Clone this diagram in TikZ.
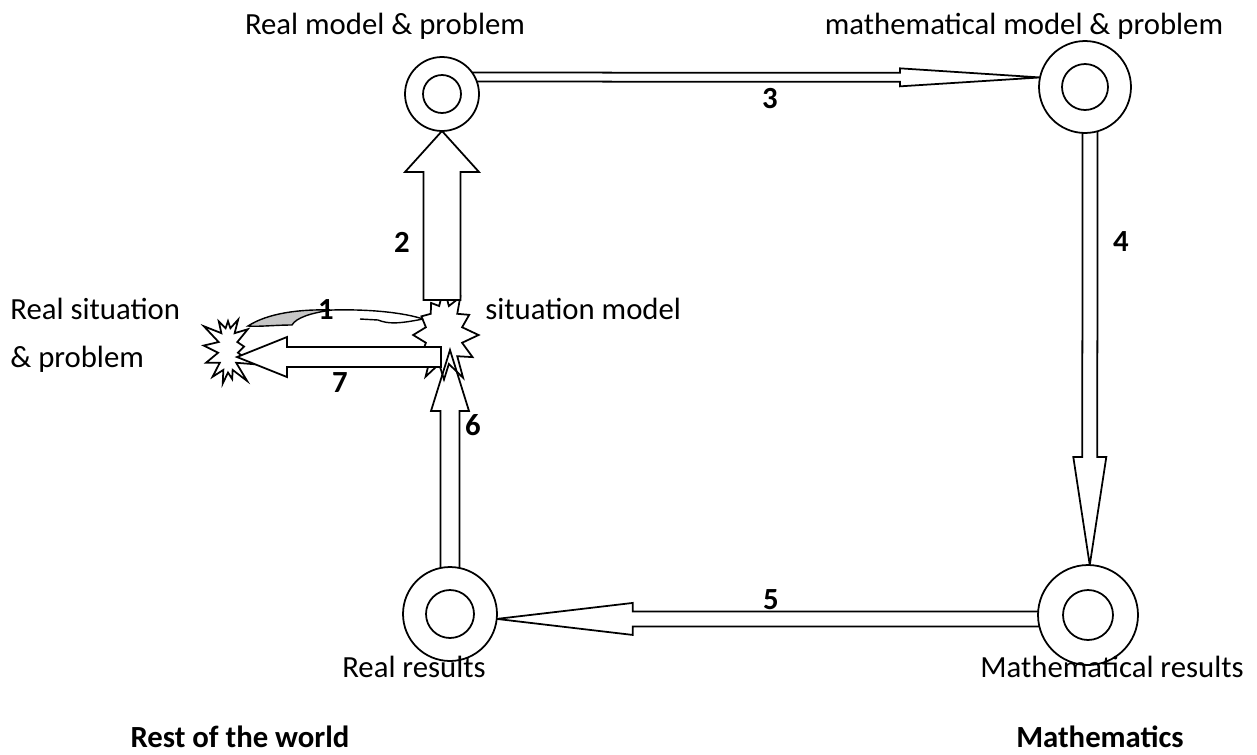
\documentclass[tikz,border=0pt]{standalone}
\usepackage{fontspec}
\setmainfont{Carlito}
\usetikzlibrary{calc,shapes.symbols,backgrounds}

% block arrow: [style] start, tip, shaft half width, head half width, head length (px)
\newcommand{\drawblock}[6][]{%
  \coordinate (hb) at ($(#3)!#6*0.02cm!(#2)$);
  \draw[blk,#1] ($(#2)!#4*0.02cm!90:(#3)$) -- ($(hb)!#4*0.02cm!90:(#3)$)
    -- ($(hb)!#5*0.02cm!90:(#3)$) -- (#3)
    -- ($(hb)!#5*0.02cm!-90:(#3)$) -- ($(hb)!#4*0.02cm!-90:(#3)$)
    -- ($(#2)!#4*0.02cm!-90:(#3)$) -- cycle;
}

\begin{document}
\begin{tikzpicture}[x=0.02cm,y=-0.02cm,
    ring/.style={circle,draw,line width=1pt,fill=white,inner sep=0pt,outer sep=0pt},
    blk/.style={draw,line width=1pt,fill=white,line join=miter},
    burst/.style={starburst,draw,line width=1pt,fill=white,inner sep=0pt,
      starburst point height=0.4cm},
    lbl/.style={font=\fontsize{17.5}{21}\selectfont,inner sep=0pt},
    num/.style={font=\fontsize{17.5}{21}\selectfont\bfseries,inner sep=0pt}]
  \useasboundingbox (0,0) rectangle (1257,754);

  % rings
  \node[ring,minimum size=1.48cm] (tl) at (442,94) {};
  \node[ring,minimum size=0.76cm] (tl-in) at (tl) {};
  \node[ring,minimum size=1.84cm] (tr) at (1085,87) {};
  \node[ring,minimum size=0.92cm] (tr-in) at (tr) {};
  \node[ring,minimum size=2.0cm] (br) at (1088,615) {};
  \node[ring,minimum size=1.0cm] (br-in) at (br) {};
  \node[ring,minimum size=1.88cm] (bl) at (450,614) {};
  \node[ring,minimum size=0.96cm] (bl-in) at (bl) {};

  \begin{pgfonlayer}{background}
    % stars
    \node[burst,starburst points=12,minimum width=1.55cm,minimum height=2.0cm,random starburst=7] (sm) at (444,335) {};
    \node[burst,starburst points=13,minimum width=1.2cm,minimum height=1.7cm,random starburst=3] (rs) at (228,350) {};

    % arrow 1
    \filldraw[line width=0.8pt,fill=gray!45] ($(rs)+(20,-24)$) .. controls (268,313) and (300,309) .. (332,310)
      .. controls (310,313) and (296,318) .. (292,325)
      .. controls (275,325) and (258,327) .. cycle;
    \draw[line width=0.8pt] (332,310) .. controls (372,309) and (405,313) .. ($(sm)+(-21,-16)$);
    \draw[line width=0.8pt] (360,319) -- (378,320) .. controls (388,324) and (398,324) .. ($(sm)+(-21,-16)$);

    % block arrows
    \coordinate (s2) at ($(sm)+(-2,-35)$);
    \drawblock{s2}{tl.south}{18.5}{37}{41}
    \coordinate (s3) at ($(tl)+(0,-17)$);
    \drawblock{s3}{tr.168}{4.5}{9}{140}
    \coordinate (s4) at ($(tr)+(5,0)$);
    \drawblock{s4}{br.88}{7.5}{16.5}{108}
    \coordinate (s5) at ($(br)+(0,4)$);
    \drawblock{s5}{bl.-6}{7.5}{16}{136}
    \coordinate (t6) at ($(sm)+(6,15)$);
    \drawblock[fill=none]{bl}{t6}{9.5}{19}{61}
    \coordinate (s7) at ($(sm)+(-3,22)$);
    \coordinate (t7) at ($(rs)+(9,7)$);
    \drawblock{s7}{t7}{10}{20}{50}
  \end{pgfonlayer}

  % texts
  \node[lbl,anchor=base] (lrm) at (385,34) {Real model \& problem};
  \node[lbl,anchor=base] (lmm) at (1024,34) {mathematical model \& problem};
  \node[lbl,anchor=base west] (lrs1) at (10,319) {Real situation};
  \node[lbl,anchor=base west] (lrs2) at (10,367) {\& problem};
  \node[lbl,anchor=base west] (lsm) at (485,319) {situation model};
  \node[lbl,anchor=base] (lrr) at (414,677) {Real results};
  \node[lbl,anchor=base] (lmr) at (1112,677) {Mathematical results};
  \node[num,anchor=base] (lrest) at (240,747) {Rest of the world};
  \node[num,anchor=base] (lmath) at (1100,747) {Mathematics};

  % step numbers
  \node[num] (n1) at (326,310) {1};
  \node[num] (n2) at (402,242) {2};
  \node[num] (n3) at (770,99) {3};
  \node[num] (n4) at (1121,242) {4};
  \node[num] (n5) at (771,600) {5};
  \node[num] (n6) at (473,425) {6};
  \node[num] (n7) at (340,383) {7};
\end{tikzpicture}
\end{document}
